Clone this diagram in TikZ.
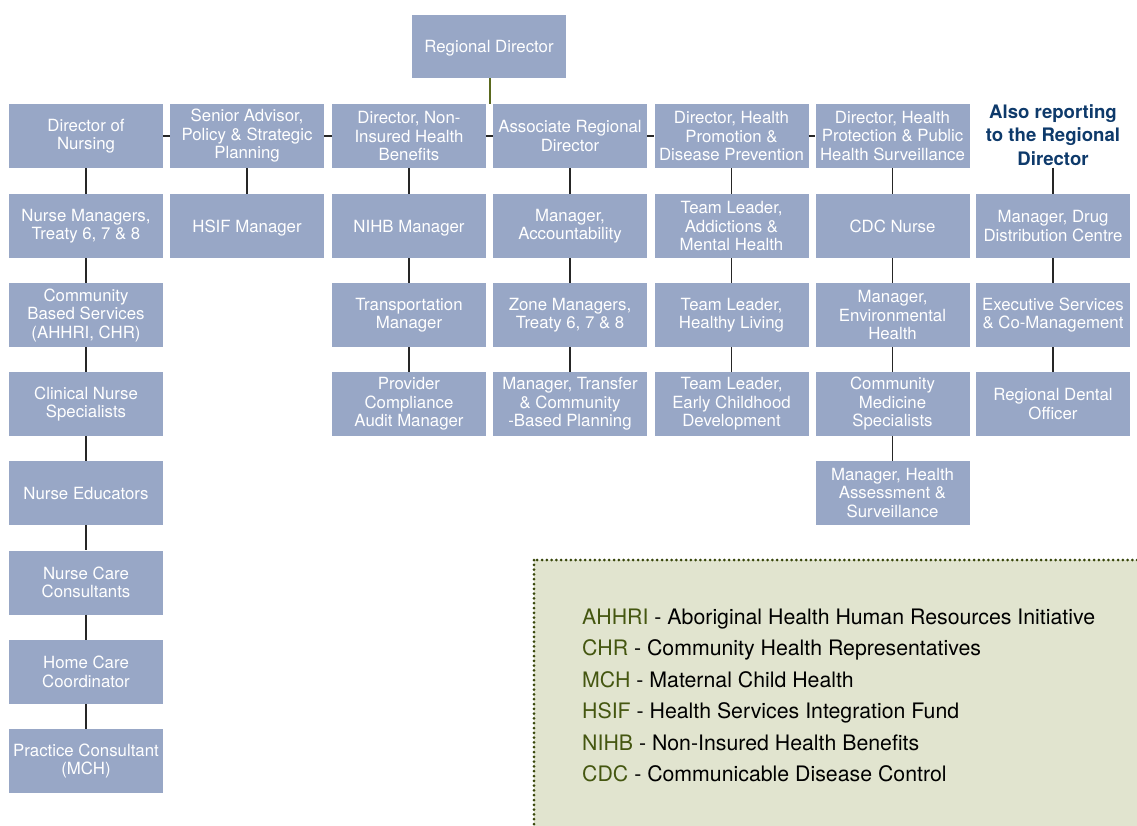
\documentclass[tikz,border=0pt]{standalone}
\usepackage{fontspec}
\setmainfont{TeX Gyre Heros}
\definecolor{boxfill}{RGB}{152,167,198}
\definecolor{legfill}{RGB}{225,228,207}
\definecolor{olive}{RGB}{68,86,16}
\definecolor{dotcol}{RGB}{55,70,10}
\definecolor{navy}{RGB}{14,58,107}
\definecolor{greenline}{RGB}{90,105,30}
\tikzset{
  orgbox/.style={fill=boxfill, draw=none, minimum width=154pt, minimum height=64pt, inner sep=0pt,
    align=center, text=white, font=\fontsize{16.8}{18.5}\selectfont},
  single/.style={text depth=0pt, text height=12.5pt},
  link/.style={draw=black!85, line width=1.6pt},
  legline/.style={anchor=base west, inner sep=0pt, font=\fontsize{21.3}{24}\selectfont, text=black}
}
\newcommand{\acro}[1]{\textcolor{olive}{#1}}
\begin{document}
\begin{tikzpicture}[x=1pt,y=-1pt]
\useasboundingbox (0,0) rectangle (1137,825);
\fill[white] (0,0) rectangle (1137,825);

% legend box
\draw[dotcol, fill=legfill, line width=3pt, line cap=round, dash pattern=on 0pt off 4.8pt] (534,560) rectangle (1160,850);
\node[legline] (l1) at (582,624) {\acro{AHHRI} - Aboriginal Health Human Resources Initiative};
\node[legline] (l2) at (582,655.5) {\acro{CHR} - Community Health Representatives};
\node[legline] (l3) at (582,687) {\acro{MCH} - Maternal Child Health};
\node[legline] (l4) at (582,718.5) {\acro{HSIF} - Health Services Integration Fund};
\node[legline] (l5) at (582,750) {\acro{NIHB} - Non-Insured Health Benefits};
\node[legline] (l6) at (582,781) {\acro{CDC} - Communicable Disease Control};

% top
\node[orgbox, single, minimum height=63pt] (rd) at (489,46.5) {Regional Director};

% row 1
\node[orgbox] (a1) at (86,136) {Director of\\Nursing};
\node[orgbox] (b1) at (247,136) {Senior Advisor,\\Policy \& Strategic\\Planning};
\node[orgbox] (c1) at (409,136) {Director, Non-\\Insured Health\\Benefits};
\node[orgbox] (d1) at (570,136) {Associate Regional\\Director};
\node[orgbox] (e1) at (731.5,136) {Director, Health\\Promotion \&\\Disease Prevention};
\node[orgbox] (f1) at (892.5,136) {Director, Health\\Protection \& Public\\Health Surveillance};
\node[align=center, text=navy, font=\bfseries\fontsize{18.6}{23.5}\selectfont, inner sep=2pt] (g1) at (1053,135) {Also reporting\\to the Regional\\Director};

% column a
\node[orgbox] (a2) at (86,226) {Nurse Managers,\\Treaty 6, 7 \& 8};
\node[orgbox] (a3) at (86,315) {Community\\Based Services\\(AHHRI, CHR)};
\node[orgbox] (a4) at (86,404) {Clinical Nurse\\Specialists};
\node[orgbox, single] (a5) at (86,493) {Nurse Educators};
\node[orgbox] (a6) at (86,582.5) {Nurse Care\\Consultants};
\node[orgbox] (a7) at (86,672) {Home Care\\Coordinator};
\node[orgbox] (a8) at (86,761) {Practice Consultant\\(MCH)};

% column b
\node[orgbox, single] (b2) at (247,226) {HSIF Manager};

% column c
\node[orgbox, single] (c2) at (409,226) {NIHB Manager};
\node[orgbox] (c3) at (409,315) {Transportation\\Manager};
\node[orgbox] (c4) at (409,404) {Provider\\Compliance\\Audit Manager};

% column d
\node[orgbox] (d2) at (570,226) {Manager,\\Accountability};
\node[orgbox] (d3) at (570,315) {Zone Managers,\\Treaty 6, 7 \& 8};
\node[orgbox] (d4) at (570,404) {Manager, Transfer\\\& Community\\-Based Planning};

% column e
\node[orgbox] (e2) at (731.5,226) {Team Leader,\\Addictions \&\\Mental Health};
\node[orgbox] (e3) at (731.5,315) {Team Leader,\\Healthy Living};
\node[orgbox] (e4) at (731.5,404) {Team Leader,\\Early Childhood\\Development};

% column f
\node[orgbox, single] (f2) at (892.5,226) {CDC Nurse};
\node[orgbox] (f3) at (892.5,315) {Manager,\\Environmental\\Health};
\node[orgbox] (f4) at (892.5,404) {Community\\Medicine\\Specialists};
\node[orgbox] (f5) at (892.5,493) {Manager, Health\\Assessment \&\\Surveillance};

% column g
\node[orgbox] (g2) at (1053,226) {Manager, Drug\\Distribution Centre};
\node[orgbox] (g3) at (1053,315) {Executive Services\\\& Co-Management};
\node[orgbox] (g4) at (1053,404) {Regional Dental\\Officer};

% connectors
\coordinate (rdfoot) at (489.5,104);
\draw[greenline, line width=2pt] (rd.south -| rdfoot) -- (rdfoot);
\draw[link] (a1.east) -- (b1.west);
\draw[link] (b1.east) -- (c1.west);
\draw[link] (c1.east) -- (d1.west);
\draw[link] (d1.east) -- (e1.west);
\draw[link] (e1.east) -- (f1.west);

\foreach \u/\v in {a1/a2,a2/a3,a3/a4,a4/a5,a5/a6,a6/a7,a7/a8,b1/b2,c1/c2,c2/c3,c3/c4,d1/d2,d2/d3,d3/d4,e1/e2,e2/e3,e3/e4,f1/f2,f2/f3,f3/f4,f4/f5,g2/g3,g3/g4}
  \draw[link] (\u.south) -- (\v.north);
\draw[link] (g1.south) -- (g2.north);
\end{tikzpicture}
\end{document}
